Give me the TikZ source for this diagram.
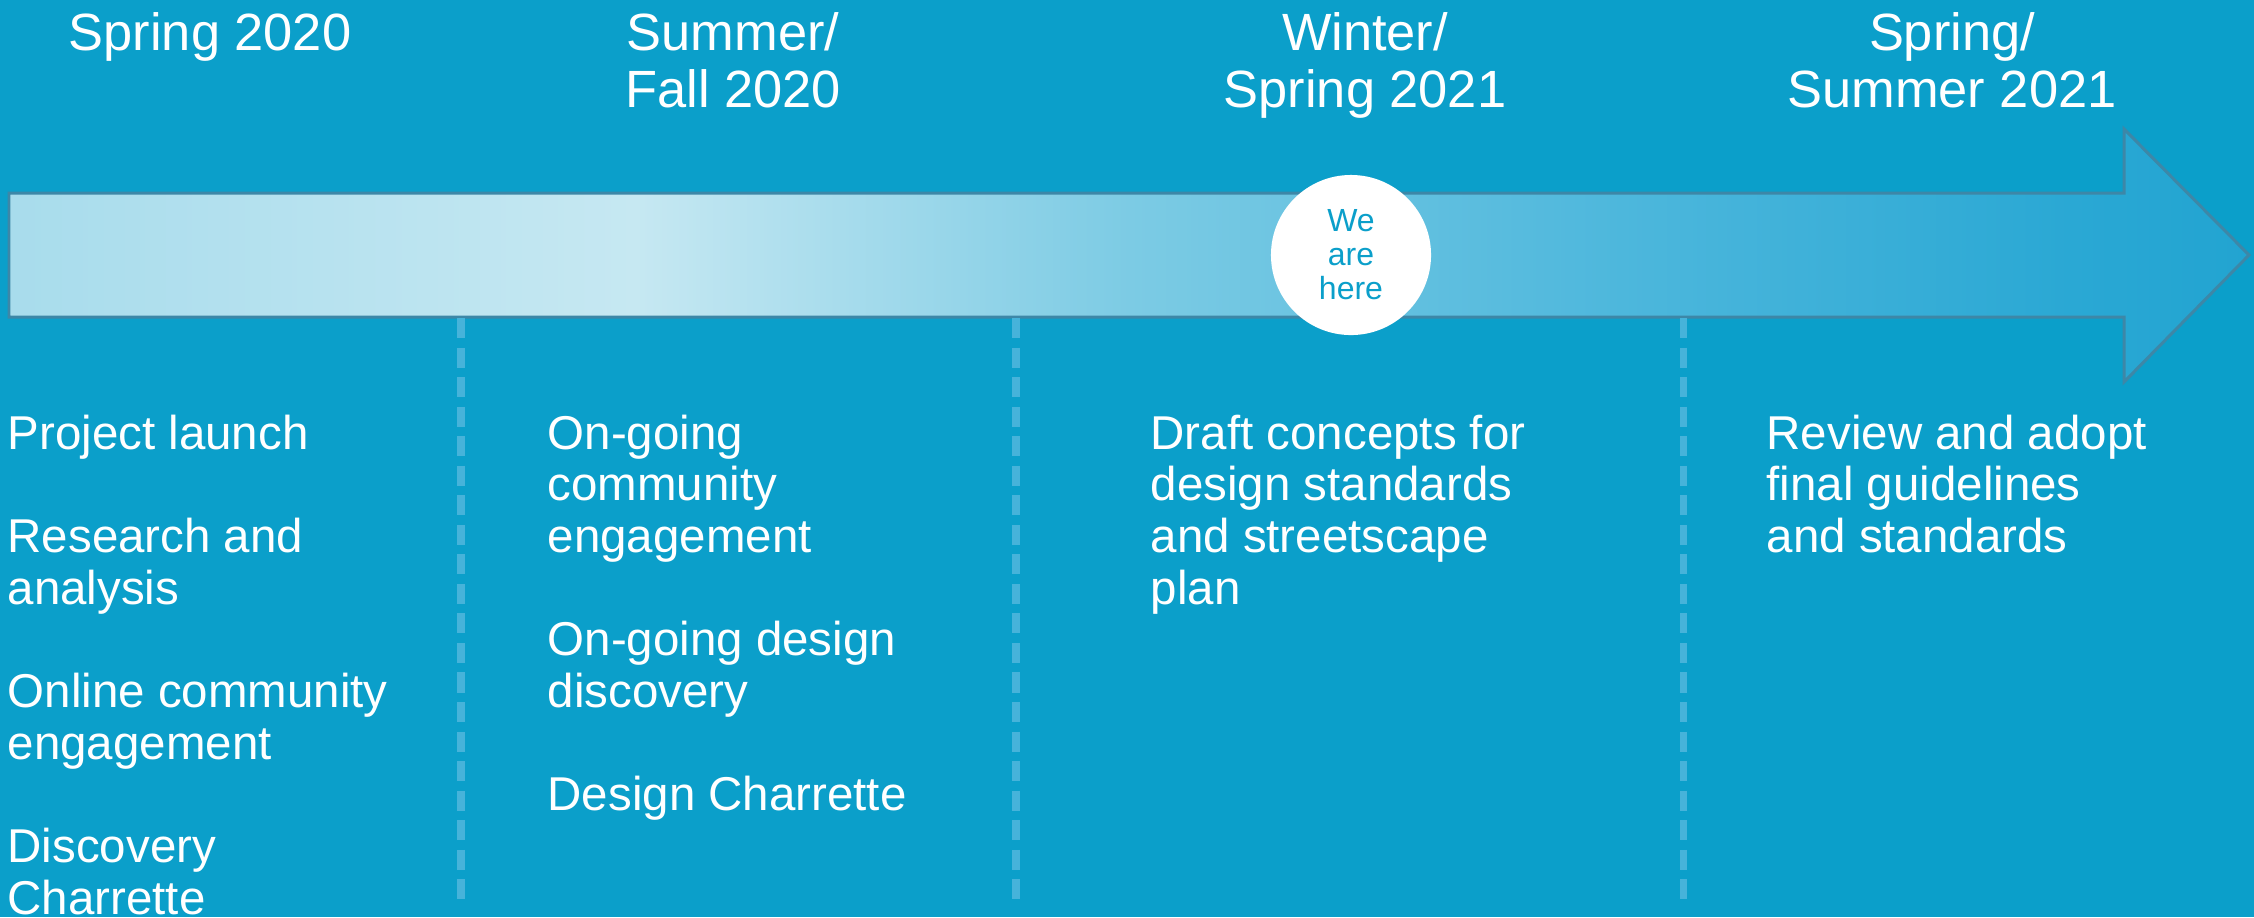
\documentclass[tikz,border=0pt]{standalone}
\usepackage{fontspec}
\setmainfont{Liberation Sans}

\definecolor{bgblue}{HTML}{0B9FCA}
\definecolor{sepblue}{HTML}{46B3DA}
\definecolor{rimblue}{HTML}{3D87A7}
\definecolor{arrowA}{HTML}{A8DCEC}
\definecolor{arrowB}{HTML}{C6E8F2}
\definecolor{arrowC}{HTML}{7CCBE4}
\definecolor{arrowD}{HTML}{4DB7DC}
\definecolor{arrowE}{HTML}{2AA8D4}
\definecolor{arrowF}{HTML}{22A4D1}
\pgfdeclarehorizontalshading{arrowshade}{100bp}{color(0bp)=(arrowA); color(25bp)=(arrowA); color(39bp)=(arrowB); color(50bp)=(arrowC); color(61bp)=(arrowD); color(71bp)=(arrowE); color(75bp)=(arrowF); color(100bp)=(arrowF)}

\begin{document}
\begin{tikzpicture}[x=0.01cm,y=-0.01cm,
	season/.style={text=white,align=center,anchor=north,inner sep=0pt,font=\fontsize{14.9}{16.2}\selectfont},
	task/.style={text=white,align=left,anchor=north west,inner sep=0pt,font=\fontsize{13.5}{14.7}\selectfont},
	sepline/.style={sepblue,line width=2pt,dash pattern=on 5.7pt off 2.7pt},
	herebubble/.style={circle,fill=white,minimum size=1.6cm,inner sep=0pt,align=center,text=bgblue,font=\fontsize{9.1}{9.7}\selectfont}]
		\fill[bgblue] (0,0) rectangle (2254,917);
		\useasboundingbox (0,0) rectangle (2254,917);
		% timeline arrow
		\draw[rimblue,line width=0.85pt,line join=miter,shading=arrowshade]
			(9,193)--(2124,193)--(2124,129)--(2249,255)--(2124,382)--(2124,317)--(9,317)--cycle;
		\draw[sepline](461,318)--(461,905);
		\draw[sepline](1016,318)--(1016,905);
		\draw[sepline](1683,318)--(1683,905);
		\node[herebubble] (here) at (1351,255) {We\\are\\here};
		% seasons
		\node[season] (s1) at (210,12) {Spring 2020};
		\node[season] (s2) at (733,12) {Summer/\\Fall 2020};
		\node[season] (s3) at (1365,12) {Winter/\\Spring 2021};
		\node[season] (s4) at (1952,12) {Spring/\\Summer 2021};
		% tasks
		\node[task] (t1) at (7,414) {Project launch\\[14.7pt]Research and\\analysis\\[14.7pt]Online community\\engagement\\[14.7pt]Discovery\\Charrette};
		\node[task] (t2) at (547,414) {On-going\\community\\engagement\\[14.7pt]On-going design\\discovery\\[14.7pt]Design Charrette};
		\node[task] (t3) at (1150,414) {Draft concepts for\\design standards\\and streetscape\\plan};
		\node[task] (t4) at (1766,414) {Review and adopt\\final guidelines\\and standards};
	\end{tikzpicture}
\end{document}
